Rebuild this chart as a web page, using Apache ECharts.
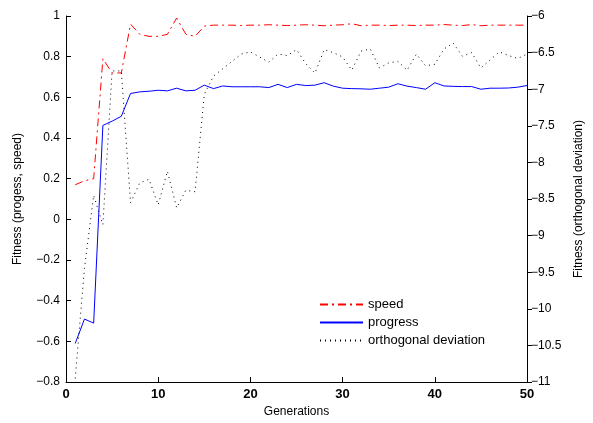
<!DOCTYPE html>
<html>
<head>
<meta charset="utf-8">
<script src="https://cdn.jsdelivr.net/npm/echarts@6/dist/echarts.min.js"></script>
<style>html,body{margin:0;padding:0;background:#fff}#c{width:593px;height:423px}</style>
</head>
<body>
<div id="c"></div>
<script>
const generations = Array.from({length: 50}, (_, i) => i + 1);
const speed = [0.17, 0.19, 0.20, 0.79, 0.72, 0.72, 0.96, 0.91, 0.90, 0.90,
  0.91, 0.99, 0.91, 0.90, 0.95, 0.955, 0.955, 0.955, 0.953, 0.955,
  0.955, 0.957, 0.955, 0.953, 0.955, 0.957, 0.955, 0.952, 0.955, 0.957,
  0.962, 0.952, 0.955, 0.955, 0.953, 0.955, 0.955, 0.953, 0.955, 0.955,
  0.958, 0.955, 0.953, 0.958, 0.952, 0.955, 0.955, 0.955, 0.955, 0.955];
const progress = [-0.61, -0.49, -0.51, 0.462, 0.483, 0.507, 0.619, 0.627, 0.630, 0.635,
  0.632, 0.645, 0.632, 0.635, 0.660, 0.643, 0.656, 0.652, 0.652, 0.652,
  0.652, 0.648, 0.664, 0.648, 0.664, 0.658, 0.660, 0.672, 0.655, 0.645,
  0.643, 0.642, 0.640, 0.645, 0.650, 0.667, 0.655, 0.648, 0.640, 0.672,
  0.656, 0.654, 0.653, 0.653, 0.640, 0.645, 0.645, 0.646, 0.650, 0.658];
const orthogonalDeviation = [-10.95, -9.45, -8.45, -8.85, -6.75, -6.75, -8.55, -8.28, -8.23, -8.58,
  -8.12, -8.62, -8.38, -8.40, -7.07, -6.82, -6.72, -6.62, -6.52, -6.49,
  -6.56, -6.63, -6.52, -6.54, -6.46, -6.65, -6.78, -6.46, -6.50, -6.56,
  -6.74, -6.48, -6.45, -6.71, -6.64, -6.62, -6.74, -6.52, -6.68, -6.66,
  -6.45, -6.37, -6.55, -6.50, -6.71, -6.60, -6.49, -6.54, -6.58, -6.52];
const seriesNames = ['speed', 'progress', 'orthogonal deviation'];

const pair = arr => generations.map((g, i) => [g, arr[i]]);
const fmt = v => String(Math.round(v * 10) / 10).replace('-', '\u2212');
const FONT = 'Liberation Sans';

const chart = echarts.init(document.getElementById('c'), null, {renderer: 'canvas'});
chart.setOption({
  animation: false,
  backgroundColor: '#fff',
  textStyle: {fontFamily: FONT, color: '#000'},
  grid: {left: 66, right: 63, top: 16, bottom: 37, containLabel: false},
  legend: {
    orient: 'vertical', left: 319, top: 298, padding: 0, itemWidth: 43, itemHeight: 14, itemGap: 5,
    itemStyle: {opacity: 0, borderWidth: 0},
    textStyle: {fontFamily: FONT, fontSize: 13, color: '#000'},
    data: seriesNames
  },
  xAxis: {
    type: 'value', min: 0, max: 50, interval: 10,
    name: 'Generations', nameLocation: 'middle', nameGap: 21,
    nameTextStyle: {fontFamily: FONT, fontSize: 12, color: '#000'},
    axisLine: {show: true, onZero: false, lineStyle: {color: '#000', width: 1}},
    axisTick: {show: true, inside: true, length: 5, lineStyle: {color: '#000'}},
    axisLabel: {fontFamily: FONT, fontSize: 13, fontWeight: 'bold', color: '#000', margin: 6},
    splitLine: {show: false}
  },
  yAxis: [{
    type: 'value', min: -0.8, max: 1, interval: 0.2, position: 'left',
    name: 'Fitness (progess, speed)', nameLocation: 'middle', nameGap: 42, nameRotate: 90,
    nameTextStyle: {fontFamily: FONT, fontSize: 12, color: '#000'},
    axisLine: {show: true, onZero: false, lineStyle: {color: '#000', width: 1}},
    axisTick: {show: true, inside: true, length: 5, lineStyle: {color: '#000'}},
    axisLabel: {fontFamily: FONT, fontSize: 12, color: '#000', margin: 6, formatter: fmt},
    splitLine: {show: false}
  }, {
    type: 'value', min: -11, max: -6, interval: 0.5, position: 'right',
    name: 'Fitness (orthogonal deviation)', nameLocation: 'middle', nameGap: 46, nameRotate: 90,
    nameTextStyle: {fontFamily: FONT, fontSize: 12, color: '#000'},
    axisLine: {show: true, onZero: false, lineStyle: {color: '#000', width: 1}},
    axisTick: {show: true, inside: false, length: 5, lineStyle: {color: '#000'}},
    axisLabel: {fontFamily: FONT, fontSize: 12, color: '#000', margin: 4, formatter: fmt},
    splitLine: {show: false}
  }],
  series: [{
    name: seriesNames[0], type: 'line', yAxisIndex: 0, symbol: 'none',
    data: pair(speed),
    lineStyle: {color: '#ff0000', width: 1, type: [8, 4, 2, 4]},
    itemStyle: {color: '#ff0000'}
  }, {
    name: seriesNames[1], type: 'line', yAxisIndex: 0, symbol: 'none',
    data: pair(progress),
    lineStyle: {color: '#0000ff', width: 1, type: 'solid'},
    itemStyle: {color: '#0000ff'}
  }, {
    name: seriesNames[2], type: 'line', yAxisIndex: 1, symbol: 'none',
    data: pair(orthogonalDeviation),
    lineStyle: {color: '#000000', width: 1, type: [1, 4]},
    itemStyle: {color: '#000000'}
  }]
});
</script>
</body>
</html>
